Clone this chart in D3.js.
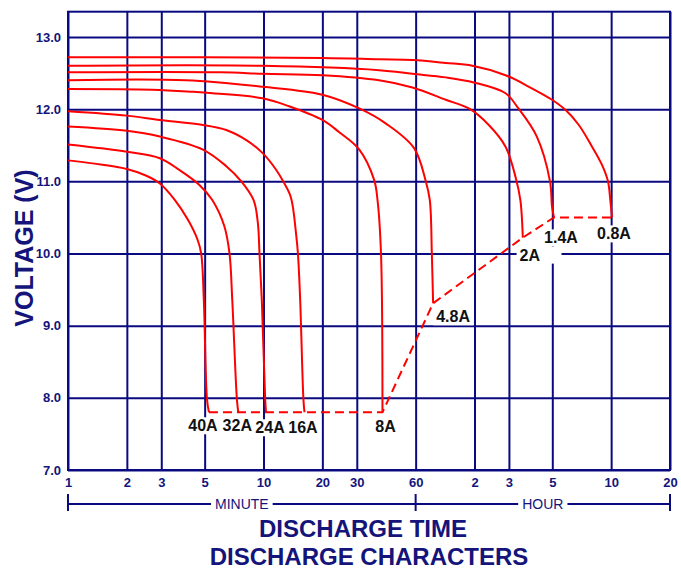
<!DOCTYPE html>
<html>
<head>
<meta charset="utf-8">
<script src="https://cdn.jsdelivr.net/npm/d3@7"></script>
<style>
body { margin: 0; background: #fff; }
svg { display: block; font-family: "Liberation Sans", Arial, sans-serif; }
</style>
</head>
<body>
<div id="chart"></div>
<script>
// discharge curves, time in minutes, voltage in volts
var names = ["40A", "32A", "24A", "16A", "8A", "4.8A", "2A", "1.4A", "0.8A"];

var t40 = [1, 1.5, 2, 2.5, 2.95, 3.5, 4.1, 4.6, 4.8, 4.95, 5.14, 5.26];
var v40 = [11.29, 11.23, 11.17, 11.08, 10.97, 10.75, 10.47, 10.19, 10.0, 9.36, 7.98, 7.8];

var t32 = [1, 2, 2.95, 3.7, 4.7, 5.47, 6.3, 6.7, 6.92, 7.31, 7.43];
var v32 = [11.51, 11.41, 11.32, 11.16, 10.95, 10.74, 10.38, 10.0, 9.36, 7.98, 7.8];

var t24 = [1, 2, 2.95, 4.9, 6.45, 7.7, 8.9, 9.35, 9.54, 9.8, 10.2, 10.3];
var v24 = [11.76, 11.70, 11.62, 11.44, 11.21, 11.0, 10.74, 10.43, 10.0, 9.36, 7.98, 7.8];

var t16 = [1, 2, 2.95, 4.9, 6.45, 8.17, 9.9, 11.6, 12.6, 13.8, 14.7, 15.0, 15.4, 16.0, 16.2];
var v16 = [11.97, 11.91, 11.85, 11.78, 11.71, 11.57, 11.39, 11.16, 11.0, 10.78, 10.25, 10.0, 9.36, 7.98, 7.8];

var t8 = [1, 2.7, 4.35, 5.5, 9.9, 13.5, 20, 24.4, 30.9, 36.8, 38.3, 39.9, 40.6];
var v8 = [12.28, 12.27, 12.24, 12.22, 12.15, 12.04, 11.85, 11.68, 11.44, 11.02, 10.74, 10.0, 7.8];

var t48 = [1, 4, 9.9, 20, 30.9, 42.3, 58.9, 67.6, 70.9, 72.6, 73.7];
var v48 = [12.40, 12.40, 12.31, 12.20, 12.01, 11.80, 11.46, 11.0, 10.74, 10.0, 9.31];

var t2 = [1, 6, 10, 20, 39, 57.8, 85.5, 114, 142, 173, 195, 206, 212];
var v2 = [12.51, 12.51, 12.49, 12.47, 12.40, 12.30, 12.13, 12.0, 11.78, 11.48, 11.05, 10.74, 10.22];

var t14 = [1, 10, 39, 57.8, 85.5, 119, 173, 200, 250, 292, 299, 306];
var v14 = [12.60, 12.60, 12.54, 12.49, 12.44, 12.37, 12.22, 12.02, 11.62, 11.0, 10.65, 10.5];

var t08 = [1, 20, 39, 57.8, 85.5, 117, 173, 228, 299, 350, 410, 479, 538, 578, 594, 606];
var v08 = [12.72, 12.71, 12.69, 12.68, 12.64, 12.60, 12.47, 12.31, 12.13, 11.99, 11.78, 11.48, 11.23, 11.0, 10.74, 10.5];

var times = [t40, t32, t24, t16, t8, t48, t2, t14, t08];
var volts = [v40, v32, v24, v16, v8, v48, v2, v14, v08];

var xTicks = [1, 2, 3, 5, 10, 20, 30, 60, 120, 180, 300, 600, 1200];
var xTickLabels = ["1", "2", "3", "5", "10", "20", "30", "60", "2", "3", "5", "10", "20"];
var yTicks = [7, 8, 9, 10, 11, 12, 13];

// label placement relative to the end of each curve (pixels)
var labelDx = [-6, -1, 4, -1.5, 3, 20, 7, 7, 2];
var labelDy = [19, 19, 21, 21, 20, 19, 23, 26, 22];
var boxExtra = [0, 0, 0, 0, 0, 0, 18, 0, 0];

var navy = "#0a0a80";
var textNavy = "#14147a";

var svg = d3.select("#chart").append("svg")
    .attr("width", 681)
    .attr("height", 570);

var plotLeft = 68, plotRight = 670, plotTop = 11.7, plotBottom = 470;

var x = d3.scaleLog().domain([1, 1200]).range([plotLeft, plotRight]);
var y = d3.scaleLinear().domain([7, 13.35]).range([plotBottom, plotTop]);

// grid + tick labels
svg.append("g")
    .attr("transform", "translate(0," + plotBottom + ")")
    .call(d3.axisBottom(x)
        .tickValues(xTicks)
        .tickFormat(function(d, i) { return xTickLabels[i]; })
        .tickSize(-(plotBottom - plotTop))
        .tickPadding(8));

svg.append("g")
    .attr("transform", "translate(" + plotLeft + ",0)")
    .call(d3.axisLeft(y)
        .tickValues(yTicks)
        .tickFormat(d3.format(".1f"))
        .tickSize(-(plotRight - plotLeft))
        .tickPadding(7));

svg.selectAll(".domain").remove();
svg.selectAll(".tick line").attr("stroke", navy).attr("stroke-width", 2);
svg.selectAll(".tick text")
    .attr("fill", textNavy)
    .style("font-size", "13px")
    .style("font-weight", "bold")
    .style("font-family", "'Liberation Sans', Arial, sans-serif");

svg.append("rect")
    .attr("x", plotLeft).attr("y", plotTop)
    .attr("width", plotRight - plotLeft).attr("height", plotBottom - plotTop)
    .attr("fill", "none")
    .attr("stroke", navy)
    .attr("stroke-width", 2);

// curves
var line = d3.line()
    .x(function(d) { return x(d[0]); })
    .y(function(d) { return y(d[1]); })
    .curve(d3.curveCatmullRom.alpha(0.5));

var series = times.map(function(ts, i) {
    return ts.map(function(t, j) { return [t, volts[i][j]]; });
});

svg.append("g").selectAll("path")
    .data(series)
    .enter()
    .append("path")
    .attr("d", line)
    .attr("fill", "none")
    .attr("stroke", "#ff0000")
    .attr("stroke-width", 2);

// end-of-discharge dashed line through the curve ends
var ends = series.map(function(s) { return s[s.length - 1]; });

svg.append("path")
    .datum(ends)
    .attr("d", d3.line()
        .x(function(d) { return x(d[0]); })
        .y(function(d) { return y(d[1]); }))
    .attr("fill", "none")
    .attr("stroke", "#ff0000")
    .attr("stroke-width", 2)
    .attr("stroke-dasharray", "9,5");

// current labels on white boxes
var labels = svg.append("g").selectAll("g")
    .data(ends)
    .enter()
    .append("g");

labels.append("rect").attr("fill", "#fff");

labels.append("text")
    .attr("x", function(d, i) { return x(d[0]) + labelDx[i]; })
    .attr("y", function(d, i) { return y(d[1]) + labelDy[i]; })
    .attr("text-anchor", "middle")
    .style("font-size", "16px")
    .style("font-weight", "bold")
    .attr("fill", "#111")
    .text(function(d, i) { return names[i]; });

labels.each(function(d, i) {
    var g = d3.select(this);
    var b = g.select("text").node().getBBox();
    g.select("rect")
        .attr("x", b.x - 3)
        .attr("y", b.y)
        .attr("width", b.width + 6 + boxExtra[i])
        .attr("height", b.height);
});

// MINUTE / HOUR bracket
var by = 504;
svg.append("line")
    .attr("x1", x(1)).attr("x2", x(1200))
    .attr("y1", by).attr("y2", by)
    .attr("stroke", navy).attr("stroke-width", 2);

svg.selectAll(".brk")
    .data([1, 60, 1200])
    .enter()
    .append("line")
    .attr("x1", function(d) { return x(d); })
    .attr("x2", function(d) { return x(d); })
    .attr("y1", by - 10).attr("y2", by + 7)
    .attr("stroke", navy).attr("stroke-width", 2);

var units = svg.selectAll(".unit")
    .data([["MINUTE", Math.sqrt(60)], ["HOUR", Math.sqrt(60 * 1200)]])
    .enter()
    .append("g");

units.append("rect").attr("fill", "#fff");
units.append("text")
    .attr("x", function(d) { return x(d[1]); })
    .attr("y", by + 5)
    .attr("text-anchor", "middle")
    .attr("fill", textNavy)
    .style("font-size", "14px")
    .text(function(d) { return d[0]; });
units.each(function() {
    var g = d3.select(this);
    var b = g.select("text").node().getBBox();
    g.select("rect").attr("x", b.x - 4).attr("y", b.y)
        .attr("width", b.width + 8).attr("height", b.height);
});

// titles
svg.append("text")
    .attr("transform", "translate(33,248) rotate(-90)")
    .attr("text-anchor", "middle")
    .attr("fill", textNavy)
    .style("font-size", "25px")
    .style("font-weight", "bold")
    .text("VOLTAGE (V)");

svg.append("text")
    .attr("x", 363).attr("y", 537)
    .attr("text-anchor", "middle")
    .attr("fill", textNavy)
    .style("font-size", "24px")
    .style("font-weight", "bold")
    .text("DISCHARGE TIME");

svg.append("text")
    .attr("x", 369).attr("y", 565)
    .attr("text-anchor", "middle")
    .attr("fill", textNavy)
    .style("font-size", "24px")
    .style("font-weight", "bold")
    .text("DISCHARGE CHARACTERS");
</script>
</body>
</html>
